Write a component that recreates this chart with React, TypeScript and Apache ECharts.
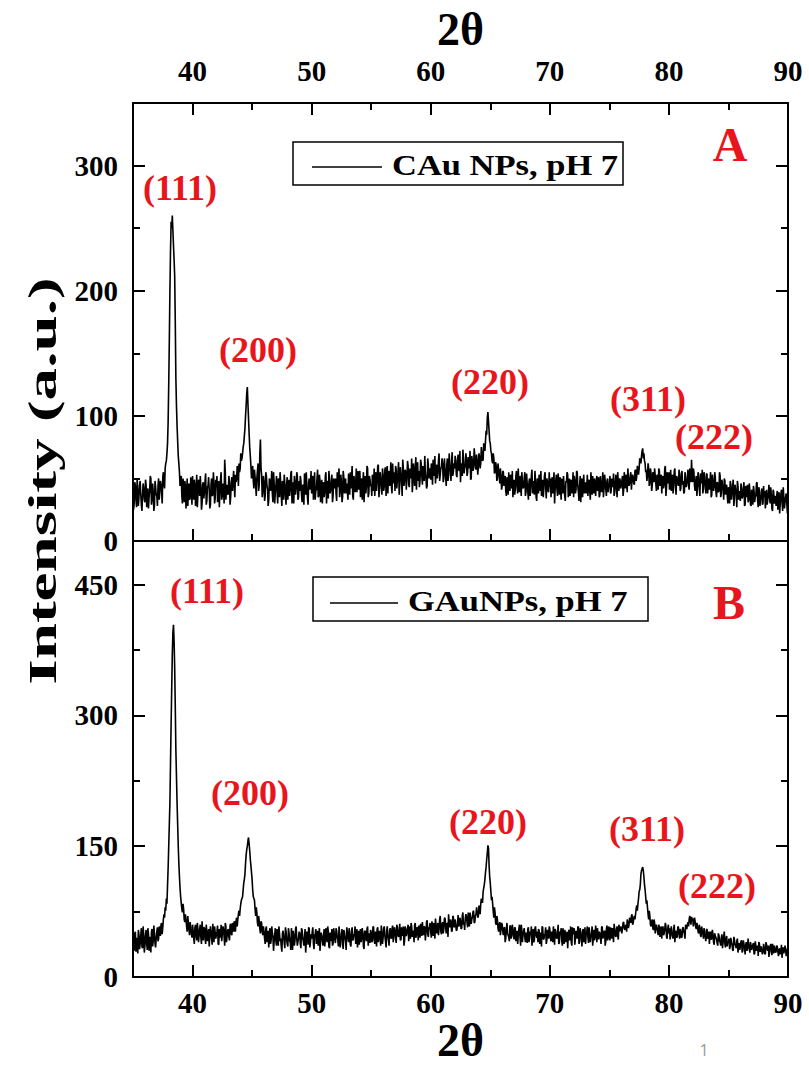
import React, { useEffect, useRef } from "react";
import * as echarts from "echarts";

// 2θ sampling of the two diffraction scans: values at 35.0, 35.1, ... 90.0 and
// the in-between readings at 35.05, 35.15, ... 89.95
const xStart = 35;
const xStep = 0.1;

// Panel A: CAu NPs, pH 7 (one row = one degree)
const cauValues = [
  38, 30, 44, 27, 41, 35, 48, 29, 36, 42,
  31, 45, 37, 26, 40, 50, 33, 39, 28, 43,
  36, 44, 33, 48, 40, 51, 45, 58, 64, 78,
  125, 200, 255, 260, 236, 212, 130, 92, 68, 55,
  47, 36, 50, 31, 44, 39, 28, 46, 35, 41,
  52, 33, 45, 38, 27, 49, 36, 43, 30, 47,
  39, 54, 32, 44, 41, 29, 50, 37, 46, 34,
  43, 31, 48, 38, 55, 36, 42, 65, 33, 45,
  38, 47, 35, 51, 40, 44, 53, 49, 58, 62,
  58, 64, 70, 78, 90, 108, 123, 98, 75, 60,
  52, 48, 57, 44, 50, 62, 45, 81, 53, 40,
  47, 36, 52, 41, 33, 48, 45, 38, 55, 30,
  44, 39, 50, 35, 47, 28, 42, 53, 37, 45,
  33, 49, 41, 56, 38, 30, 46, 43, 52, 35,
  40, 48, 31, 45, 54, 37, 43, 29, 50, 44,
  38, 52, 46, 33, 41, 57, 36, 48, 42, 30,
  47, 39, 55, 44, 34, 49, 41, 53, 36, 45,
  50, 32, 43, 58, 40, 47, 35, 51, 44, 38,
  46, 54, 37, 42, 60, 33, 48, 45, 39, 56,
  41, 35, 50, 47, 31, 52, 44, 58, 38, 49,
  45, 53, 40, 36, 55, 48, 61, 42, 50, 37,
  52, 44, 59, 47, 38, 56, 50, 43, 62, 46,
  40, 57, 49, 63, 45, 53, 36, 58, 48, 55,
  51, 60, 43, 55, 66, 47, 52, 58, 41, 63,
  56, 48, 62, 45, 57, 68, 50, 44, 60, 53,
  49, 58, 65, 52, 46, 61, 55, 70, 48, 59,
  62, 50, 57, 44, 66, 53, 60, 48, 71, 55,
  58, 64, 51, 69, 56, 47, 62, 73, 54, 60,
  66, 55, 61, 72, 50, 63, 58, 68, 57, 64,
  60, 67, 62, 70, 65, 74, 80, 85, 103, 88,
  78, 70, 62, 66, 55, 60, 50, 57, 46, 52,
  44, 55, 48, 40, 51, 37, 46, 53, 42, 35,
  49, 41, 56, 38, 45, 52, 36, 47, 43, 55,
  39, 46, 33, 50, 44, 57, 41, 37, 48, 32,
  45, 53, 40, 36, 49, 42, 55, 34, 47, 39,
  43, 35, 51, 46, 30, 48, 41, 54, 37, 45,
  50, 38, 44, 32, 47, 53, 40, 36, 49, 42,
  35, 48, 41, 55, 39, 44, 31, 50, 46, 38,
  47, 42, 36, 49, 33, 45, 52, 38, 43, 48,
  40, 51, 37, 44, 46, 35, 53, 41, 48, 39,
  45, 38, 50, 43, 36, 47, 42, 55, 40, 49,
  44, 52, 41, 47, 53, 39, 50, 46, 55, 48,
  51, 45, 57, 52, 60, 58, 64, 68, 74, 70,
  62, 57, 52, 58, 47, 54, 44, 50, 58, 46,
  53, 41, 56, 48, 38, 52, 45, 60, 43, 49,
  55, 47, 40, 53, 45, 58, 37, 50, 44, 52,
  42, 56, 48, 39, 51, 46, 57, 41, 53, 65,
  47, 55, 40, 52, 44, 50, 36, 48, 57, 42,
  49, 38, 53, 45, 41, 55, 37, 47, 43, 50,
  35, 46, 40, 52, 38, 44, 33, 48, 41, 36,
  43, 30, 45, 38, 49, 34, 41, 27, 44, 37,
  32, 42, 36, 47, 29, 39, 45, 33, 40, 28,
  38, 44, 31, 36, 47, 27, 40, 34, 42, 30,
  35, 26, 41, 33, 45, 30, 37, 24, 39, 32,
  28, 40, 34, 22, 37, 31, 43, 26, 35, 30,
  33,
];
const cauMidValues = [
  25, 47, 33, 50, 28, 44, 38, 24, 46, 33,
  49, 27, 42, 35, 52, 29, 46, 24, 48, 37,
  28, 50, 39, 45, 30, 55, 42, 62, 70, 95,
  160, 232, 250, 248, 225, 175, 108, 80, 62, 44,
  52, 30, 42, 48, 26, 50, 37, 33, 51, 29,
  41, 49, 28, 53, 37, 44, 52, 25, 45, 34,
  48, 29, 43, 51, 26, 45, 36, 55, 30, 49,
  52, 40, 27, 49, 33, 46, 30, 55, 42, 37,
  52, 29, 46, 40, 56, 35, 47, 60, 44, 55,
  70, 66, 75, 84, 100, 118, 110, 86, 68, 50,
  60, 42, 51, 36, 56, 40, 70, 58, 35, 52,
  32, 55, 44, 28, 50, 40, 56, 31, 47, 39,
  52, 30, 45, 55, 36, 48, 33, 46, 29, 51,
  42, 36, 54, 30, 47, 52, 37, 55, 33, 48,
  52, 37, 44, 29, 48, 55, 35, 47, 41, 56,
  46, 33, 55, 40, 50, 35, 53, 31, 49, 45,
  35, 52, 30, 48, 56, 38, 47, 31, 50, 42,
  38, 55, 49, 35, 53, 31, 56, 38, 50, 46,
  33, 44, 55, 50, 36, 52, 39, 58, 47, 41,
  56, 46, 33, 55, 42, 38, 60, 35, 52, 44,
  36, 48, 58, 47, 40, 60, 35, 55, 44, 58,
  40, 57, 36, 60, 52, 44, 63, 38, 50, 55,
  60, 42, 55, 37, 59, 48, 65, 44, 57, 41,
  64, 45, 58, 50, 39, 62, 44, 67, 55, 48,
  43, 65, 52, 60, 48, 55, 42, 66, 50, 58,
  62, 45, 54, 68, 57, 50, 64, 48, 58, 66,
  47, 66, 52, 61, 48, 70, 56, 64, 52, 62,
  68, 53, 64, 57, 72, 60, 52, 66, 58, 70,
  52, 67, 58, 49, 68, 56, 74, 60, 69, 53,
  70, 58, 75, 64, 78, 72, 88, 98, 96, 80,
  72, 64, 70, 54, 63, 48, 62, 52, 58, 41,
  56, 44, 52, 36, 47, 55, 40, 50, 56, 44,
  37, 52, 44, 58, 39, 46, 55, 42, 50, 36,
  54, 40, 47, 36, 52, 38, 48, 56, 35, 50,
  38, 48, 56, 42, 35, 52, 44, 50, 40, 55,
  50, 44, 38, 55, 42, 53, 36, 47, 51, 33,
  42, 52, 36, 48, 55, 35, 50, 44, 38, 55,
  52, 38, 56, 44, 32, 52, 46, 35, 53, 41,
  38, 53, 45, 40, 55, 37, 42, 50, 36, 52,
  47, 35, 52, 39, 55, 42, 48, 36, 50, 44,
  52, 40, 46, 54, 39, 53, 35, 47, 50, 42,
  48, 36, 55, 42, 49, 58, 44, 52, 41, 53,
  46, 56, 48, 60, 53, 66, 62, 72, 66, 64,
  55, 48, 62, 44, 58, 40, 55, 47, 52, 40,
  48, 58, 44, 53, 50, 42, 58, 36, 55, 46,
  41, 57, 49, 38, 56, 44, 52, 46, 57, 40,
  54, 45, 38, 55, 43, 50, 44, 58, 47, 52,
  58, 44, 48, 36, 55, 42, 54, 46, 38, 55,
  44, 54, 38, 50, 47, 35, 53, 40, 55, 39,
  47, 39, 55, 35, 49, 42, 50, 37, 45, 30,
  38, 48, 33, 44, 28, 45, 38, 48, 33, 40,
  46, 34, 42, 28, 44, 35, 31, 46, 29, 41,
  29, 40, 35, 46, 32, 43, 28, 37, 29, 44,
  40, 33, 29, 38, 35, 43, 26, 41, 30, 36,
  36, 25, 39, 30, 41, 24, 35, 31, 38, 22,
];

// Panel B: GAuNPs, pH 7 (one row = one degree)
const gauValues = [
  44, 30, 52, 36, 27, 49, 38, 56, 33, 47,
  36, 54, 31, 49, 40, 28, 55, 42, 50, 34,
  52, 41, 58, 47, 62, 57, 72, 80, 90, 105,
  150, 200, 290, 370, 404, 355, 260, 200, 150, 115,
  92, 78, 84, 66, 72, 58, 70, 54, 63, 50,
  60, 44, 57, 48, 62, 40, 55, 45, 64, 42,
  56, 38, 52, 47, 35, 58, 43, 61, 40, 51,
  44, 59, 37, 53, 60, 41, 55, 36, 58, 47,
  55, 42, 61, 48, 57, 64, 52, 68, 66, 76,
  78, 88, 92, 108, 118, 140, 150, 160, 145, 128,
  112, 92, 88, 70, 74, 58, 64, 50, 62, 48,
  52, 38, 58, 45, 34, 56, 42, 51, 30, 49,
  41, 55, 36, 50, 44, 29, 53, 39, 57, 43,
  35, 51, 40, 56, 31, 47, 42, 58, 36, 45,
  50, 33, 54, 41, 46, 28, 52, 37, 55, 40,
  44, 57, 32, 49, 38, 53, 45, 30, 51, 41,
  48, 35, 56, 40, 52, 33, 46, 55, 38, 50,
  39, 53, 42, 58, 34, 48, 37, 54, 45, 31,
  52, 40, 49, 35, 57, 43, 50, 38, 55, 46,
  37, 55, 44, 50, 32, 53, 41, 58, 46, 39,
  51, 42, 57, 38, 49, 55, 40, 53, 36, 50,
  45, 58, 41, 52, 47, 36, 56, 44, 59, 48,
  54, 39, 57, 46, 61, 43, 52, 58, 41, 55,
  47, 60, 51, 44, 58, 53, 40, 62, 49, 56,
  59, 45, 55, 63, 48, 57, 51, 65, 46, 58,
  52, 64, 47, 58, 67, 50, 62, 55, 70, 49,
  63, 55, 68, 50, 61, 72, 57, 64, 53, 69,
  58, 66, 54, 71, 60, 64, 56, 74, 62, 67,
  70, 57, 65, 74, 61, 69, 76, 63, 72, 80,
  70, 76, 84, 88, 98, 106, 120, 135, 151, 128,
  108, 88, 84, 68, 74, 60, 66, 52, 63, 55,
  60, 48, 57, 44, 62, 50, 41, 58, 47, 54,
  43, 56, 49, 38, 55, 45, 60, 40, 52, 46,
  51, 39, 57, 44, 48, 36, 55, 42, 58, 45,
  40, 53, 46, 35, 57, 43, 50, 38, 54, 44,
  55, 41, 49, 58, 37, 52, 44, 60, 39, 48,
  42, 56, 38, 51, 45, 33, 54, 47, 40, 57,
  49, 37, 53, 44, 58, 41, 50, 35, 55, 43,
  38, 52, 45, 57, 40, 49, 36, 54, 46, 51,
  56, 43, 50, 38, 58, 47, 53, 41, 59, 45,
  50, 57, 44, 53, 61, 48, 55, 47, 60, 52,
  58, 50, 63, 54, 60, 66, 56, 68, 62, 72,
  62, 70, 72, 82, 84, 98, 106, 122, 126, 115,
  100, 84, 80, 66, 70, 58, 66, 54, 62, 56,
  60, 48, 57, 52, 44, 58, 50, 62, 46, 55,
  50, 43, 58, 47, 55, 40, 53, 46, 57, 44,
  52, 46, 57, 50, 60, 55, 63, 66, 64, 69,
  67, 62, 64, 55, 58, 50, 56, 46, 53, 44,
  50, 41, 55, 46, 38, 52, 44, 49, 37, 47,
  43, 36, 48, 40, 45, 33, 46, 38, 44, 35,
  40, 32, 45, 37, 30, 43, 36, 41, 28, 39,
  35, 42, 30, 38, 26, 40, 33, 37, 28, 36,
  31, 39, 27, 36, 33, 24, 38, 30, 35, 28,
  34, 26, 37, 30, 23, 35, 29, 38, 27, 32,
  29, 35, 24, 33, 28, 22, 34, 27, 31, 26,
  28,
];
const gauMidValues = [
  36, 50, 29, 45, 54, 32, 47, 35, 58, 28,
  48, 38, 56, 30, 46, 52, 35, 59, 38, 45,
  57, 44, 52, 60, 49, 66, 68, 76, 84, 125,
  175, 245, 330, 395, 385, 310, 230, 175, 130, 102,
  85, 74, 78, 63, 66, 52, 62, 48, 56, 45,
  53, 38, 60, 42, 55, 47, 60, 38, 52, 57,
  45, 60, 41, 55, 48, 52, 37, 50, 58, 44,
  52, 38, 55, 45, 41, 58, 46, 62, 40, 53,
  46, 59, 50, 62, 52, 59, 64, 58, 72, 70,
  84, 90, 100, 112, 130, 146, 156, 153, 135, 120,
  100, 90, 78, 80, 62, 70, 55, 64, 52, 58,
  44, 55, 40, 53, 49, 38, 58, 46, 40, 56,
  36, 49, 58, 41, 35, 50, 46, 33, 52, 38,
  56, 42, 31, 48, 53, 36, 55, 44, 40, 52,
  38, 56, 45, 36, 55, 40, 48, 57, 34, 49,
  52, 38, 48, 55, 44, 36, 56, 42, 47, 36,
  55, 43, 46, 58, 35, 51, 41, 36, 56, 43,
  56, 46, 35, 50, 44, 55, 32, 51, 40, 57,
  45, 56, 37, 52, 42, 48, 58, 43, 34, 53,
  48, 40, 56, 35, 52, 44, 55, 36, 50, 54,
  40, 58, 43, 52, 35, 57, 46, 45, 59, 38,
  56, 47, 34, 58, 42, 53, 45, 55, 40, 57,
  44, 60, 48, 53, 42, 57, 47, 36, 58, 47,
  55, 41, 58, 62, 46, 50, 60, 45, 57, 42,
  50, 61, 47, 53, 58, 42, 63, 49, 56, 62,
  45, 55, 62, 44, 59, 56, 48, 66, 52, 60,
  50, 67, 58, 62, 46, 59, 66, 52, 70, 57,
  66, 53, 62, 58, 68, 55, 70, 60, 54, 72,
  62, 74, 58, 68, 66, 75, 62, 70, 80, 68,
  82, 72, 90, 85, 102, 112, 126, 142, 148, 115,
  98, 92, 75, 80, 62, 70, 56, 60, 48, 62,
  52, 56, 40, 55, 50, 46, 59, 44, 60, 48,
  57, 41, 53, 47, 60, 36, 54, 48, 56, 40,
  47, 55, 40, 52, 58, 45, 40, 56, 48, 52,
  55, 38, 51, 58, 44, 48, 57, 42, 49, 58,
  45, 52, 40, 50, 55, 45, 50, 38, 52, 56,
  36, 50, 54, 40, 52, 48, 42, 58, 36, 52,
  56, 44, 48, 57, 38, 56, 44, 52, 40, 57,
  48, 58, 39, 50, 47, 58, 45, 42, 59, 40,
  48, 52, 46, 57, 44, 52, 36, 55, 42, 58,
  42, 52, 56, 40, 54, 46, 58, 43, 52, 58,
  50, 62, 56, 58, 52, 63, 60, 65, 70, 60,
  68, 66, 78, 76, 90, 100, 118, 124, 122, 106,
  92, 88, 72, 76, 60, 64, 56, 66, 50, 60,
  52, 60, 46, 58, 56, 48, 55, 58, 44, 60,
  56, 48, 52, 44, 60, 50, 45, 58, 50, 55,
  45, 56, 52, 44, 58, 60, 58, 70, 60, 66,
  58, 68, 57, 62, 52, 60, 48, 58, 50, 56,
  46, 54, 44, 52, 50, 43, 54, 40, 50, 45,
  39, 50, 42, 36, 49, 40, 52, 34, 47, 41,
  44, 36, 40, 31, 46, 37, 33, 44, 35, 31,
  41, 28, 42, 33, 37, 30, 44, 32, 40, 31,
  37, 26, 41, 30, 36, 40, 29, 35, 26, 38,
  27, 40, 32, 36, 30, 38, 25, 33, 36, 28,
  36, 29, 31, 26, 37, 30, 27, 36, 24, 33,
];

const xMin = 35;
const xMax = 90;
const xMajorTicks = [40, 50, 60, 70, 80, 90];
const xMinorTicks = [45, 55, 65, 75, 85];
const yTopMax = 350;
const yTopMajorTicks = [0, 100, 200, 300];
const yTopMinorTicks = [50, 150, 250];
const yBottomMax = 500;
const yBottomMajorTicks = [0, 150, 300, 450];
const yBottomMinorTicks = [75, 225, 375];

const seriesNames = ["CAu NPs, pH 7", "GAuNPs, pH 7"];
const panelLetters = ["A", "B"];
const peakLabels = ["(111)", "(200)", "(220)", "(311)", "(222)"];
const xTitle = "2θ";
const yTitle = "Intensity (a.u.)";

const FONT = '"Liberation Serif", "Times New Roman", serif';
const RED = "#e8161c";

function toPairs(values: number[], mids: number[]) {
  const out: number[][] = [];
  values.forEach((v, i) => {
    const x = xStart + i * xStep;
    out.push([Number(x.toFixed(2)), v]);
    if (i < mids.length) out.push([Number((x + xStep / 2).toFixed(2)), mids[i]]);
  });
  return out;
}

function xAxisDef(opts: any) {
  const { grid, position, ticks, length, labels, line, name, nameGap, labelMargin } = opts;
  return {
    type: "value",
    gridIndex: grid,
    position,
    min: xMin,
    max: xMax,
    name: name || "",
    nameLocation: "middle",
    nameGap: nameGap || 0,
    nameTextStyle: { fontFamily: FONT, fontWeight: "bold", fontSize: 46, color: "#000" },
    axisLine: { show: !!line, onZero: false, lineStyle: { color: "#000", width: 2 } },
    axisTick: {
      show: true,
      inside: true,
      length,
      customValues: ticks,
      lineStyle: { color: "#000", width: 2 },
    },
    axisLabel: labels
      ? {
          show: true,
          customValues: ticks,
          margin: labelMargin,
          fontFamily: FONT,
          fontWeight: "bold",
          fontSize: 29,
          color: "#000",
        }
      : { show: false },
    splitLine: { show: false },
  };
}

function yAxisDef(opts: any) {
  const { grid, position, ticks, length, labels, line, max } = opts;
  return {
    type: "value",
    gridIndex: grid,
    position,
    min: 0,
    max,
    axisLine: { show: !!line, onZero: false, lineStyle: { color: "#000", width: 2 } },
    axisTick: {
      show: true,
      inside: true,
      length,
      customValues: ticks,
      lineStyle: { color: "#000", width: 2 },
    },
    axisLabel: labels
      ? {
          show: true,
          customValues: ticks,
          margin: 15,
          fontFamily: FONT,
          fontWeight: "bold",
          fontSize: 29,
          color: "#000",
        }
      : { show: false },
    splitLine: { show: false },
  };
}

function peakText(text: string, x: number, y: number) {
  return {
    type: "text",
    x,
    y,
    silent: true,
    style: {
      text,
      fill: RED,
      font: `bold 36px ${FONT}`,
      align: "center",
      verticalAlign: "middle",
    },
  };
}

function legendBox(x0: number, y0: number, w: number, h: number, lx1: number, lx2: number, ly: number, label: string, tx: number, ty: number) {
  return [
    {
      type: "rect",
      silent: true,
      shape: { x: x0, y: y0, width: w, height: h },
      style: { fill: "#fff", stroke: "#000", lineWidth: 1.5 },
    },
    {
      type: "line",
      silent: true,
      shape: { x1: lx1, y1: ly, x2: lx2, y2: ly },
      style: { stroke: "#000", lineWidth: 1.5 },
    },
    {
      type: "text",
      silent: true,
      x: tx,
      y: ty,
      scaleX: 1.15,
      style: {
        text: label,
        fill: "#000",
        font: `bold 30px ${FONT}`,
        align: "left",
        verticalAlign: "middle",
      },
    },
  ];
}

export default function App() {
  const ref = useRef<HTMLDivElement>(null);

  useEffect(() => {
    if (!ref.current) return;
    const chart = echarts.init(ref.current, undefined, { renderer: "svg" });

    const option: any = {
      animation: false,
      backgroundColor: "#fff",
      grid: [
        { left: 133, right: 21, top: 103, height: 438, containLabel: false },
        { left: 133, right: 21, top: 541, height: 436, containLabel: false },
      ],
      xAxis: [
        xAxisDef({ grid: 0, position: "top", ticks: xMajorTicks, length: 12, labels: true, labelMargin: 18, line: true, name: xTitle, nameGap: 51 }),
        xAxisDef({ grid: 0, position: "top", ticks: xMinorTicks, length: 7 }),
        xAxisDef({ grid: 0, position: "bottom", ticks: xMajorTicks, length: 12, line: true }),
        xAxisDef({ grid: 0, position: "bottom", ticks: xMinorTicks, length: 7 }),
        xAxisDef({ grid: 1, position: "bottom", ticks: xMajorTicks, length: 12, labels: true, labelMargin: 11, line: true, name: xTitle, nameGap: 34 }),
        xAxisDef({ grid: 1, position: "bottom", ticks: xMinorTicks, length: 7 }),
      ],
      yAxis: [
        yAxisDef({ grid: 0, position: "left", ticks: yTopMajorTicks, length: 12, labels: true, line: true, max: yTopMax }),
        yAxisDef({ grid: 0, position: "left", ticks: yTopMinorTicks, length: 7, max: yTopMax }),
        yAxisDef({ grid: 0, position: "right", ticks: yTopMajorTicks, length: 12, line: true, max: yTopMax }),
        yAxisDef({ grid: 0, position: "right", ticks: yTopMinorTicks, length: 7, max: yTopMax }),
        yAxisDef({ grid: 1, position: "left", ticks: yBottomMajorTicks, length: 12, labels: true, line: true, max: yBottomMax }),
        yAxisDef({ grid: 1, position: "left", ticks: yBottomMinorTicks, length: 7, max: yBottomMax }),
        yAxisDef({ grid: 1, position: "right", ticks: yBottomMajorTicks, length: 12, line: true, max: yBottomMax }),
        yAxisDef({ grid: 1, position: "right", ticks: yBottomMinorTicks, length: 7, max: yBottomMax }),
      ],
      series: [
        {
          name: seriesNames[0],
          type: "line",
          xAxisIndex: 0,
          yAxisIndex: 0,
          data: toPairs(cauValues, cauMidValues),
          showSymbol: false,
          symbol: "none",
          silent: true,
          lineStyle: { color: "#000", width: 1.6 },
        },
        {
          name: seriesNames[1],
          type: "line",
          xAxisIndex: 4,
          yAxisIndex: 4,
          data: toPairs(gauValues, gauMidValues),
          showSymbol: false,
          symbol: "none",
          silent: true,
          lineStyle: { color: "#000", width: 1.6 },
        },
      ],
      graphic: [
        {
          type: "text",
          silent: true,
          x: 43,
          y: 481,
          rotation: Math.PI / 2,
          scaleX: 1.63,
          style: {
            text: yTitle,
            fill: "#000",
            font: `bold 40px ${FONT}`,
            align: "center",
            verticalAlign: "middle",
          },
        },
        ...legendBox(293, 142, 330, 43, 312, 382, 167, seriesNames[0], 392, 165),
        ...legendBox(313, 577, 335, 44, 330, 398, 603, seriesNames[1], 408, 601),
        {
          type: "text",
          silent: true,
          x: 730,
          y: 144,
          style: { text: panelLetters[0], fill: RED, font: `bold 48px ${FONT}`, align: "center", verticalAlign: "middle" },
        },
        {
          type: "text",
          silent: true,
          x: 729,
          y: 602,
          style: { text: panelLetters[1], fill: RED, font: `bold 48px ${FONT}`, align: "center", verticalAlign: "middle" },
        },
        peakText(peakLabels[0], 180, 188),
        peakText(peakLabels[1], 258, 350),
        peakText(peakLabels[2], 490, 382),
        peakText(peakLabels[3], 648, 399),
        peakText(peakLabels[4], 714, 437),
        peakText(peakLabels[0], 207, 591),
        peakText(peakLabels[1], 250, 793),
        peakText(peakLabels[2], 488, 822),
        peakText(peakLabels[3], 647, 829),
        peakText(peakLabels[4], 717, 886),
        {
          type: "text",
          silent: true,
          x: 704,
          y: 1050,
          style: { text: "1", fill: "#999", font: `16px "Open Sans", sans-serif`, align: "center", verticalAlign: "middle" },
        },
      ],
    };

    chart.setOption(option);
    return () => chart.dispose();
  }, []);

  return (
    <div
      ref={ref}
      style={{ position: "absolute", left: 0, top: 0, width: 809, height: 1072, background: "#fff" }}
    />
  );
}
